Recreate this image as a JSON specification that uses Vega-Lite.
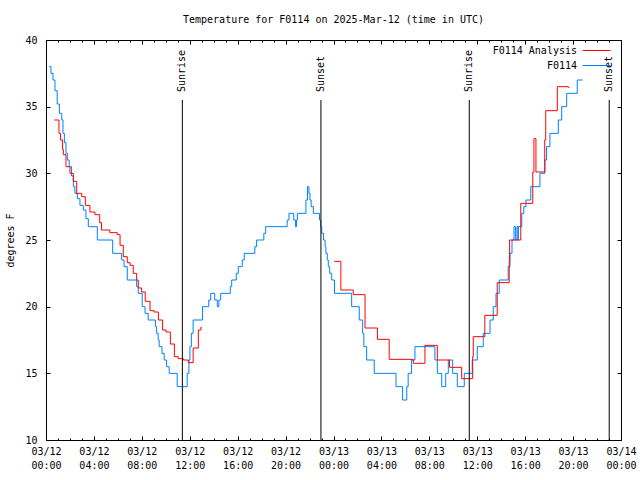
{
  "$schema": "https://vega.github.io/schema/vega-lite/v6.json",
  "width": 575,
  "height": 400,
  "autosize": "none",
  "padding": {"left": 46, "top": 40, "right": 19, "bottom": 40},
  "background": "#ffffff",
  "title": {"text": "Temperature for F0114 on 2025-Mar-12 (time in UTC)", "font": "DejaVu Sans Mono", "fontSize": 10, "fontWeight": "normal", "color": "#000", "anchor": "middle", "frame": "group", "offset": 10},
  "config": {
    "font": "DejaVu Sans Mono",
    "view": {"stroke": "#000", "strokeWidth": 1},
    "axis": {"grid": false, "domain": false, "labelFont": "DejaVu Sans Mono", "labelFontSize": 10, "labelColor": "#000", "tickColor": "#000", "tickWidth": 1, "titleFont": "DejaVu Sans Mono", "titleFontSize": 10, "titleFontWeight": "normal", "titleColor": "#000"},
    "legend": {"labelFont": "DejaVu Sans Mono", "labelFontSize": 10, "labelColor": "#000"}
  },
  "datasets": {
    "obs": [
      {"s": "F0114", "g": "b", "t": "2025-03-12T00:15:00Z", "v": 38},
      {"s": "F0114", "g": "b", "t": "2025-03-12T00:25:00Z", "v": 37.5},
      {"s": "F0114", "g": "b", "t": "2025-03-12T00:35:00Z", "v": 37},
      {"s": "F0114", "g": "b", "t": "2025-03-12T00:45:00Z", "v": 36.2},
      {"s": "F0114", "g": "b", "t": "2025-03-12T00:56:00Z", "v": 35.2},
      {"s": "F0114", "g": "b", "t": "2025-03-12T01:07:00Z", "v": 34.5},
      {"s": "F0114", "g": "b", "t": "2025-03-12T01:19:00Z", "v": 34},
      {"s": "F0114", "g": "b", "t": "2025-03-12T01:25:00Z", "v": 33},
      {"s": "F0114", "g": "b", "t": "2025-03-12T01:32:00Z", "v": 32.3},
      {"s": "F0114", "g": "b", "t": "2025-03-12T01:40:00Z", "v": 31.5},
      {"s": "F0114", "g": "b", "t": "2025-03-12T01:47:00Z", "v": 31},
      {"s": "F0114", "g": "b", "t": "2025-03-12T01:56:00Z", "v": 30.5},
      {"s": "F0114", "g": "b", "t": "2025-03-12T02:08:00Z", "v": 29.8},
      {"s": "F0114", "g": "b", "t": "2025-03-12T02:17:00Z", "v": 29},
      {"s": "F0114", "g": "b", "t": "2025-03-12T02:25:00Z", "v": 28.5},
      {"s": "F0114", "g": "b", "t": "2025-03-12T02:37:00Z", "v": 28.1},
      {"s": "F0114", "g": "b", "t": "2025-03-12T02:50:00Z", "v": 27.6},
      {"s": "F0114", "g": "b", "t": "2025-03-12T03:07:00Z", "v": 27.25},
      {"s": "F0114", "g": "b", "t": "2025-03-12T03:20:00Z", "v": 26.6},
      {"s": "F0114", "g": "b", "t": "2025-03-12T03:32:00Z", "v": 26},
      {"s": "F0114", "g": "b", "t": "2025-03-12T04:17:00Z", "v": 25},
      {"s": "F0114", "g": "b", "t": "2025-03-12T05:34:00Z", "v": 24},
      {"s": "F0114", "g": "b", "t": "2025-03-12T06:19:00Z", "v": 23.5},
      {"s": "F0114", "g": "b", "t": "2025-03-12T06:31:00Z", "v": 23},
      {"s": "F0114", "g": "b", "t": "2025-03-12T06:47:00Z", "v": 22},
      {"s": "F0114", "g": "b", "t": "2025-03-12T07:34:00Z", "v": 21.5},
      {"s": "F0114", "g": "b", "t": "2025-03-12T07:42:00Z", "v": 21},
      {"s": "F0114", "g": "b", "t": "2025-03-12T08:02:00Z", "v": 20},
      {"s": "F0114", "g": "b", "t": "2025-03-12T08:16:00Z", "v": 19.5},
      {"s": "F0114", "g": "b", "t": "2025-03-12T08:32:00Z", "v": 19},
      {"s": "F0114", "g": "b", "t": "2025-03-12T09:08:00Z", "v": 18.5},
      {"s": "F0114", "g": "b", "t": "2025-03-12T09:14:00Z", "v": 18},
      {"s": "F0114", "g": "b", "t": "2025-03-12T09:22:00Z", "v": 17.5},
      {"s": "F0114", "g": "b", "t": "2025-03-12T09:27:00Z", "v": 17},
      {"s": "F0114", "g": "b", "t": "2025-03-12T09:41:00Z", "v": 16.5},
      {"s": "F0114", "g": "b", "t": "2025-03-12T09:52:00Z", "v": 16},
      {"s": "F0114", "g": "b", "t": "2025-03-12T10:04:00Z", "v": 15.5},
      {"s": "F0114", "g": "b", "t": "2025-03-12T10:17:00Z", "v": 15},
      {"s": "F0114", "g": "b", "t": "2025-03-12T10:57:00Z", "v": 14},
      {"s": "F0114", "g": "b", "t": "2025-03-12T11:47:00Z", "v": 15},
      {"s": "F0114", "g": "b", "t": "2025-03-12T11:56:00Z", "v": 16},
      {"s": "F0114", "g": "b", "t": "2025-03-12T12:01:00Z", "v": 17},
      {"s": "F0114", "g": "b", "t": "2025-03-12T12:08:00Z", "v": 18},
      {"s": "F0114", "g": "b", "t": "2025-03-12T12:17:00Z", "v": 19},
      {"s": "F0114", "g": "b", "t": "2025-03-12T13:04:00Z", "v": 20},
      {"s": "F0114", "g": "b", "t": "2025-03-12T13:35:00Z", "v": 20.5},
      {"s": "F0114", "g": "b", "t": "2025-03-12T13:45:00Z", "v": 21},
      {"s": "F0114", "g": "b", "t": "2025-03-12T14:05:00Z", "v": 20.5},
      {"s": "F0114", "g": "b", "t": "2025-03-12T14:18:00Z", "v": 20},
      {"s": "F0114", "g": "b", "t": "2025-03-12T14:26:00Z", "v": 20.5},
      {"s": "F0114", "g": "b", "t": "2025-03-12T14:35:00Z", "v": 21},
      {"s": "F0114", "g": "b", "t": "2025-03-12T15:23:00Z", "v": 21.5},
      {"s": "F0114", "g": "b", "t": "2025-03-12T15:30:00Z", "v": 22},
      {"s": "F0114", "g": "b", "t": "2025-03-12T15:53:00Z", "v": 22.5},
      {"s": "F0114", "g": "b", "t": "2025-03-12T16:03:00Z", "v": 23},
      {"s": "F0114", "g": "b", "t": "2025-03-12T16:23:00Z", "v": 23.5},
      {"s": "F0114", "g": "b", "t": "2025-03-12T16:33:00Z", "v": 24},
      {"s": "F0114", "g": "b", "t": "2025-03-12T17:26:00Z", "v": 24.5},
      {"s": "F0114", "g": "b", "t": "2025-03-12T17:35:00Z", "v": 25},
      {"s": "F0114", "g": "b", "t": "2025-03-12T18:11:00Z", "v": 25.5},
      {"s": "F0114", "g": "b", "t": "2025-03-12T18:20:00Z", "v": 26},
      {"s": "F0114", "g": "b", "t": "2025-03-12T20:08:00Z", "v": 26.5},
      {"s": "F0114", "g": "b", "t": "2025-03-12T20:17:00Z", "v": 27},
      {"s": "F0114", "g": "b", "t": "2025-03-12T20:41:00Z", "v": 26.5},
      {"s": "F0114", "g": "b", "t": "2025-03-12T20:50:00Z", "v": 26},
      {"s": "F0114", "g": "b", "t": "2025-03-12T20:55:00Z", "v": 26.5},
      {"s": "F0114", "g": "b", "t": "2025-03-12T20:59:00Z", "v": 27},
      {"s": "F0114", "g": "b", "t": "2025-03-12T21:42:00Z", "v": 28},
      {"s": "F0114", "g": "b", "t": "2025-03-12T21:50:00Z", "v": 29},
      {"s": "F0114", "g": "b", "t": "2025-03-12T21:57:00Z", "v": 28.5},
      {"s": "F0114", "g": "b", "t": "2025-03-12T22:02:00Z", "v": 28},
      {"s": "F0114", "g": "b", "t": "2025-03-12T22:08:00Z", "v": 27.5},
      {"s": "F0114", "g": "b", "t": "2025-03-12T22:19:00Z", "v": 27},
      {"s": "F0114", "g": "b", "t": "2025-03-12T22:50:00Z", "v": 26.5},
      {"s": "F0114", "g": "b", "t": "2025-03-12T22:56:00Z", "v": 26},
      {"s": "F0114", "g": "b", "t": "2025-03-12T23:01:00Z", "v": 25.5},
      {"s": "F0114", "g": "b", "t": "2025-03-12T23:10:00Z", "v": 25},
      {"s": "F0114", "g": "b", "t": "2025-03-12T23:18:00Z", "v": 24.5},
      {"s": "F0114", "g": "b", "t": "2025-03-12T23:22:00Z", "v": 24},
      {"s": "F0114", "g": "b", "t": "2025-03-12T23:29:00Z", "v": 23.5},
      {"s": "F0114", "g": "b", "t": "2025-03-12T23:34:00Z", "v": 23},
      {"s": "F0114", "g": "b", "t": "2025-03-12T23:41:00Z", "v": 22.5},
      {"s": "F0114", "g": "b", "t": "2025-03-12T23:51:00Z", "v": 22},
      {"s": "F0114", "g": "b", "t": "2025-03-13T00:05:00Z", "v": 21},
      {"s": "F0114", "g": "b", "t": "2025-03-13T01:31:00Z", "v": 20},
      {"s": "F0114", "g": "b", "t": "2025-03-13T02:09:00Z", "v": 19},
      {"s": "F0114", "g": "b", "t": "2025-03-13T02:26:00Z", "v": 18},
      {"s": "F0114", "g": "b", "t": "2025-03-13T02:32:00Z", "v": 17},
      {"s": "F0114", "g": "b", "t": "2025-03-13T02:46:00Z", "v": 16},
      {"s": "F0114", "g": "b", "t": "2025-03-13T03:24:00Z", "v": 15},
      {"s": "F0114", "g": "b", "t": "2025-03-13T05:13:00Z", "v": 14},
      {"s": "F0114", "g": "b", "t": "2025-03-13T05:46:00Z", "v": 13},
      {"s": "F0114", "g": "b", "t": "2025-03-13T06:07:00Z", "v": 14},
      {"s": "F0114", "g": "b", "t": "2025-03-13T06:14:00Z", "v": 15},
      {"s": "F0114", "g": "b", "t": "2025-03-13T06:31:00Z", "v": 16},
      {"s": "F0114", "g": "b", "t": "2025-03-13T06:48:00Z", "v": 17},
      {"s": "F0114", "g": "b", "t": "2025-03-13T08:28:00Z", "v": 16},
      {"s": "F0114", "g": "b", "t": "2025-03-13T08:40:00Z", "v": 15},
      {"s": "F0114", "g": "b", "t": "2025-03-13T09:02:00Z", "v": 14},
      {"s": "F0114", "g": "b", "t": "2025-03-13T09:22:00Z", "v": 15},
      {"s": "F0114", "g": "b", "t": "2025-03-13T09:35:00Z", "v": 16},
      {"s": "F0114", "g": "b", "t": "2025-03-13T09:57:00Z", "v": 15},
      {"s": "F0114", "g": "b", "t": "2025-03-13T10:20:00Z", "v": 14},
      {"s": "F0114", "g": "b", "t": "2025-03-13T10:55:00Z", "v": 15},
      {"s": "F0114", "g": "b", "t": "2025-03-13T11:35:00Z", "v": 16},
      {"s": "F0114", "g": "b", "t": "2025-03-13T12:00:00Z", "v": 17},
      {"s": "F0114", "g": "b", "t": "2025-03-13T12:30:00Z", "v": 18},
      {"s": "F0114", "g": "b", "t": "2025-03-13T13:04:00Z", "v": 19},
      {"s": "F0114", "g": "b", "t": "2025-03-13T13:20:00Z", "v": 20},
      {"s": "F0114", "g": "b", "t": "2025-03-13T13:34:00Z", "v": 21},
      {"s": "F0114", "g": "b", "t": "2025-03-13T13:50:00Z", "v": 22},
      {"s": "F0114", "g": "b", "t": "2025-03-13T14:35:00Z", "v": 23},
      {"s": "F0114", "g": "b", "t": "2025-03-13T14:44:00Z", "v": 24},
      {"s": "F0114", "g": "b", "t": "2025-03-13T14:54:00Z", "v": 25},
      {"s": "F0114", "g": "b", "t": "2025-03-13T15:04:00Z", "v": 26},
      {"s": "F0114", "g": "b", "t": "2025-03-13T15:11:00Z", "v": 25},
      {"s": "F0114", "g": "b", "t": "2025-03-13T15:19:00Z", "v": 26},
      {"s": "F0114", "g": "b", "t": "2025-03-13T15:24:00Z", "v": 25},
      {"s": "F0114", "g": "b", "t": "2025-03-13T15:26:00Z", "v": 26},
      {"s": "F0114", "g": "b", "t": "2025-03-13T15:43:00Z", "v": 27},
      {"s": "F0114", "g": "b", "t": "2025-03-13T15:53:00Z", "v": 27.5},
      {"s": "F0114", "g": "b", "t": "2025-03-13T16:04:00Z", "v": 28},
      {"s": "F0114", "g": "b", "t": "2025-03-13T16:28:00Z", "v": 29},
      {"s": "F0114", "g": "b", "t": "2025-03-13T17:14:00Z", "v": 30},
      {"s": "F0114", "g": "b", "t": "2025-03-13T17:39:00Z", "v": 31},
      {"s": "F0114", "g": "b", "t": "2025-03-13T17:47:00Z", "v": 32},
      {"s": "F0114", "g": "b", "t": "2025-03-13T18:04:00Z", "v": 33},
      {"s": "F0114", "g": "b", "t": "2025-03-13T18:46:00Z", "v": 34},
      {"s": "F0114", "g": "b", "t": "2025-03-13T19:03:00Z", "v": 35},
      {"s": "F0114", "g": "b", "t": "2025-03-13T19:28:00Z", "v": 36},
      {"s": "F0114", "g": "b", "t": "2025-03-13T20:21:00Z", "v": 37},
      {"s": "F0114", "g": "b", "t": "2025-03-13T20:48:00Z", "v": 37},
      {"s": "F0114 Analysis", "g": "r1", "t": "2025-03-12T00:41:00Z", "v": 34},
      {"s": "F0114 Analysis", "g": "r1", "t": "2025-03-12T01:05:00Z", "v": 33},
      {"s": "F0114 Analysis", "g": "r1", "t": "2025-03-12T01:13:00Z", "v": 32.5},
      {"s": "F0114 Analysis", "g": "r1", "t": "2025-03-12T01:23:00Z", "v": 31.8},
      {"s": "F0114 Analysis", "g": "r1", "t": "2025-03-12T01:27:00Z", "v": 31.4},
      {"s": "F0114 Analysis", "g": "r1", "t": "2025-03-12T01:40:00Z", "v": 30.5},
      {"s": "F0114 Analysis", "g": "r1", "t": "2025-03-12T02:00:00Z", "v": 30},
      {"s": "F0114 Analysis", "g": "r1", "t": "2025-03-12T02:17:00Z", "v": 29.4},
      {"s": "F0114 Analysis", "g": "r1", "t": "2025-03-12T02:34:00Z", "v": 28.5},
      {"s": "F0114 Analysis", "g": "r1", "t": "2025-03-12T02:59:00Z", "v": 28.25},
      {"s": "F0114 Analysis", "g": "r1", "t": "2025-03-12T03:17:00Z", "v": 27.6},
      {"s": "F0114 Analysis", "g": "r1", "t": "2025-03-12T03:40:00Z", "v": 27.1},
      {"s": "F0114 Analysis", "g": "r1", "t": "2025-03-12T04:05:00Z", "v": 26.9},
      {"s": "F0114 Analysis", "g": "r1", "t": "2025-03-12T04:29:00Z", "v": 26.3},
      {"s": "F0114 Analysis", "g": "r1", "t": "2025-03-12T04:38:00Z", "v": 25.75},
      {"s": "F0114 Analysis", "g": "r1", "t": "2025-03-12T05:20:00Z", "v": 25.55},
      {"s": "F0114 Analysis", "g": "r1", "t": "2025-03-12T05:57:00Z", "v": 25.4},
      {"s": "F0114 Analysis", "g": "r1", "t": "2025-03-12T06:11:00Z", "v": 24.6},
      {"s": "F0114 Analysis", "g": "r1", "t": "2025-03-12T06:27:00Z", "v": 23.75},
      {"s": "F0114 Analysis", "g": "r1", "t": "2025-03-12T06:47:00Z", "v": 23.3},
      {"s": "F0114 Analysis", "g": "r1", "t": "2025-03-12T07:01:00Z", "v": 23.1},
      {"s": "F0114 Analysis", "g": "r1", "t": "2025-03-12T07:17:00Z", "v": 22.5},
      {"s": "F0114 Analysis", "g": "r1", "t": "2025-03-12T07:34:00Z", "v": 22},
      {"s": "F0114 Analysis", "g": "r1", "t": "2025-03-12T07:42:00Z", "v": 21.4},
      {"s": "F0114 Analysis", "g": "r1", "t": "2025-03-12T07:59:00Z", "v": 21.1},
      {"s": "F0114 Analysis", "g": "r1", "t": "2025-03-12T08:17:00Z", "v": 20.4},
      {"s": "F0114 Analysis", "g": "r1", "t": "2025-03-12T08:41:00Z", "v": 19.7},
      {"s": "F0114 Analysis", "g": "r1", "t": "2025-03-12T09:01:00Z", "v": 19.6},
      {"s": "F0114 Analysis", "g": "r1", "t": "2025-03-12T09:23:00Z", "v": 19},
      {"s": "F0114 Analysis", "g": "r1", "t": "2025-03-12T09:44:00Z", "v": 18.25},
      {"s": "F0114 Analysis", "g": "r1", "t": "2025-03-12T10:01:00Z", "v": 18.1},
      {"s": "F0114 Analysis", "g": "r1", "t": "2025-03-12T10:23:00Z", "v": 17.2},
      {"s": "F0114 Analysis", "g": "r1", "t": "2025-03-12T10:43:00Z", "v": 16.25},
      {"s": "F0114 Analysis", "g": "r1", "t": "2025-03-12T11:02:00Z", "v": 16.1},
      {"s": "F0114 Analysis", "g": "r1", "t": "2025-03-12T11:28:00Z", "v": 16},
      {"s": "F0114 Analysis", "g": "r1", "t": "2025-03-12T11:53:00Z", "v": 15.8},
      {"s": "F0114 Analysis", "g": "r1", "t": "2025-03-12T12:17:00Z", "v": 16.9},
      {"s": "F0114 Analysis", "g": "r1", "t": "2025-03-12T12:43:00Z", "v": 18.25},
      {"s": "F0114 Analysis", "g": "r1", "t": "2025-03-12T12:56:00Z", "v": 18.45},
      {"s": "F0114 Analysis", "g": "r1", "t": "2025-03-12T13:00:00Z", "v": 18.45},
      {"s": "F0114 Analysis", "g": "r2", "t": "2025-03-13T00:04:00Z", "v": 23.4},
      {"s": "F0114 Analysis", "g": "r2", "t": "2025-03-13T00:37:00Z", "v": 21.25},
      {"s": "F0114 Analysis", "g": "r2", "t": "2025-03-13T01:39:00Z", "v": 20.9},
      {"s": "F0114 Analysis", "g": "r2", "t": "2025-03-13T02:38:00Z", "v": 18.4},
      {"s": "F0114 Analysis", "g": "r2", "t": "2025-03-13T03:40:00Z", "v": 17.55},
      {"s": "F0114 Analysis", "g": "r2", "t": "2025-03-13T04:39:00Z", "v": 16.05},
      {"s": "F0114 Analysis", "g": "r2", "t": "2025-03-13T06:40:00Z", "v": 15.75},
      {"s": "F0114 Analysis", "g": "r2", "t": "2025-03-13T07:38:00Z", "v": 17.1},
      {"s": "F0114 Analysis", "g": "r2", "t": "2025-03-13T08:40:00Z", "v": 16.0},
      {"s": "F0114 Analysis", "g": "r2", "t": "2025-03-13T09:41:00Z", "v": 15.45},
      {"s": "F0114 Analysis", "g": "r2", "t": "2025-03-13T10:42:00Z", "v": 14.6},
      {"s": "F0114 Analysis", "g": "r2", "t": "2025-03-13T11:37:00Z", "v": 16.25},
      {"s": "F0114 Analysis", "g": "r2", "t": "2025-03-13T11:40:00Z", "v": 17.75},
      {"s": "F0114 Analysis", "g": "r2", "t": "2025-03-13T12:38:00Z", "v": 19.35},
      {"s": "F0114 Analysis", "g": "r2", "t": "2025-03-13T13:40:00Z", "v": 21.8},
      {"s": "F0114 Analysis", "g": "r2", "t": "2025-03-13T14:40:00Z", "v": 23.4},
      {"s": "F0114 Analysis", "g": "r2", "t": "2025-03-13T14:42:00Z", "v": 25.0},
      {"s": "F0114 Analysis", "g": "r2", "t": "2025-03-13T15:38:00Z", "v": 27.75},
      {"s": "F0114 Analysis", "g": "r2", "t": "2025-03-13T16:38:00Z", "v": 30.1},
      {"s": "F0114 Analysis", "g": "r2", "t": "2025-03-13T16:44:00Z", "v": 32.6},
      {"s": "F0114 Analysis", "g": "r2", "t": "2025-03-13T16:54:00Z", "v": 30.1},
      {"s": "F0114 Analysis", "g": "r2", "t": "2025-03-13T17:38:00Z", "v": 32.5},
      {"s": "F0114 Analysis", "g": "r2", "t": "2025-03-13T17:43:00Z", "v": 34.7},
      {"s": "F0114 Analysis", "g": "r2", "t": "2025-03-13T18:41:00Z", "v": 36.5},
      {"s": "F0114 Analysis", "g": "r2", "t": "2025-03-13T19:35:00Z", "v": 36.45},
      {"s": "F0114 Analysis", "g": "r2", "t": "2025-03-13T19:41:00Z", "v": 36.45}
    ],
    "sun": [
      {"t": "2025-03-12T11:23:00Z", "e": "Sunrise"},
      {"t": "2025-03-12T22:57:00Z", "e": "Sunset"},
      {"t": "2025-03-13T11:20:00Z", "e": "Sunrise"},
      {"t": "2025-03-13T23:01:00Z", "e": "Sunset"}
    ]
  },
  "resolve": {"axis": {"x": "independent", "y": "independent"}},
  "layer": [
    {
      "data": {"name": "obs"},
      "mark": {"type": "line", "interpolate": "step-after", "strokeWidth": 1, "clip": true},
      "encoding": {
        "x": {"field": "t", "type": "temporal",
          "scale": {"type": "utc", "domain": [1741737600000, 1741910400000], "nice": false},
          "axis": {"orient": "bottom", "title": null, "tickSize": -4,
            "values": [1741737600000, 1741752000000, 1741766400000, 1741780800000, 1741795200000, 1741809600000, 1741824000000, 1741838400000, 1741852800000, 1741867200000, 1741881600000, 1741896000000, 1741910400000],
            "labelPadding": 10, "labelFlush": false, "labelOverlap": false, "labelLineHeight": 14,
            "labelExpr": "[utcFormat(datum.value, '%m/%d'), utcFormat(datum.value, '%H:%M')]"}},
        "y": {"field": "v", "type": "quantitative",
          "scale": {"domain": [10, 40], "nice": false, "zero": false},
          "axis": {"orient": "left", "title": "degrees F", "tickSize": -4, "values": [10, 15, 20, 25, 30, 35, 40], "labelPadding": 13, "titleX": -31, "titleY": 200}},
        "color": {"field": "s", "type": "nominal",
          "scale": {"domain": ["F0114 Analysis", "F0114"], "range": ["#ff0000", "#0080ff"]},
          "legend": {"orient": "none", "legendX": 543, "legendY": 3, "title": null, "symbolType": "M-2,0H2", "symbolStrokeWidth": 1, "symbolSize": 196, "labelAlign": "right", "labelOffset": -27}},
        "detail": {"field": "g"}
      }
    },
    {
      "data": {"name": "sun"},
      "mark": {"type": "rule", "color": "#000", "strokeWidth": 1},
      "encoding": {
        "x": {"field": "t", "type": "temporal",
          "axis": {"orient": "top", "title": null, "labels": false, "tickSize": -4,
            "values": [1741737600000, 1741752000000, 1741766400000, 1741780800000, 1741795200000, 1741809600000, 1741824000000, 1741838400000, 1741852800000, 1741867200000, 1741881600000, 1741896000000, 1741910400000]}},
        "y": {"datum": 35.5, "type": "quantitative",
          "axis": {"orient": "right", "title": null, "labels": false, "tickSize": -4, "values": [10, 15, 20, 25, 30, 35, 40]}},
        "y2": {"datum": 10}
      }
    },
    {
      "data": {"name": "sun"},
      "mark": {"type": "text", "angle": 270, "align": "left", "baseline": "middle", "fontSize": 10, "font": "DejaVu Sans Mono", "color": "#000"},
      "encoding": {
        "x": {"field": "t", "type": "temporal",
          "axis": {"orient": "bottom", "title": null, "labels": false, "tickSize": -2,
            "values": [1741737600000, 1741741200000, 1741744800000, 1741748400000, 1741752000000, 1741755600000, 1741759200000, 1741762800000, 1741766400000, 1741770000000, 1741773600000, 1741777200000, 1741780800000, 1741784400000, 1741788000000, 1741791600000, 1741795200000, 1741798800000, 1741802400000, 1741806000000, 1741809600000, 1741813200000, 1741816800000, 1741820400000, 1741824000000, 1741827600000, 1741831200000, 1741834800000, 1741838400000, 1741842000000, 1741845600000, 1741849200000, 1741852800000, 1741856400000, 1741860000000, 1741863600000, 1741867200000, 1741870800000, 1741874400000, 1741878000000, 1741881600000, 1741885200000, 1741888800000, 1741892400000, 1741896000000, 1741899600000, 1741903200000, 1741906800000, 1741910400000]}},
        "y": {"datum": 36.1, "type": "quantitative", "axis": null},
        "text": {"field": "e"}
      }
    },
    {
      "data": {"name": "sun"},
      "mark": {"type": "rule", "opacity": 0},
      "encoding": {
        "x": {"field": "t", "type": "temporal",
          "axis": {"orient": "top", "title": null, "labels": false, "tickSize": -2,
            "values": [1741737600000, 1741741200000, 1741744800000, 1741748400000, 1741752000000, 1741755600000, 1741759200000, 1741762800000, 1741766400000, 1741770000000, 1741773600000, 1741777200000, 1741780800000, 1741784400000, 1741788000000, 1741791600000, 1741795200000, 1741798800000, 1741802400000, 1741806000000, 1741809600000, 1741813200000, 1741816800000, 1741820400000, 1741824000000, 1741827600000, 1741831200000, 1741834800000, 1741838400000, 1741842000000, 1741845600000, 1741849200000, 1741852800000, 1741856400000, 1741860000000, 1741863600000, 1741867200000, 1741870800000, 1741874400000, 1741878000000, 1741881600000, 1741885200000, 1741888800000, 1741892400000, 1741896000000, 1741899600000, 1741903200000, 1741906800000, 1741910400000]}},
        "y": {"datum": 20, "type": "quantitative", "axis": null}
      }
    }
  ]
}
